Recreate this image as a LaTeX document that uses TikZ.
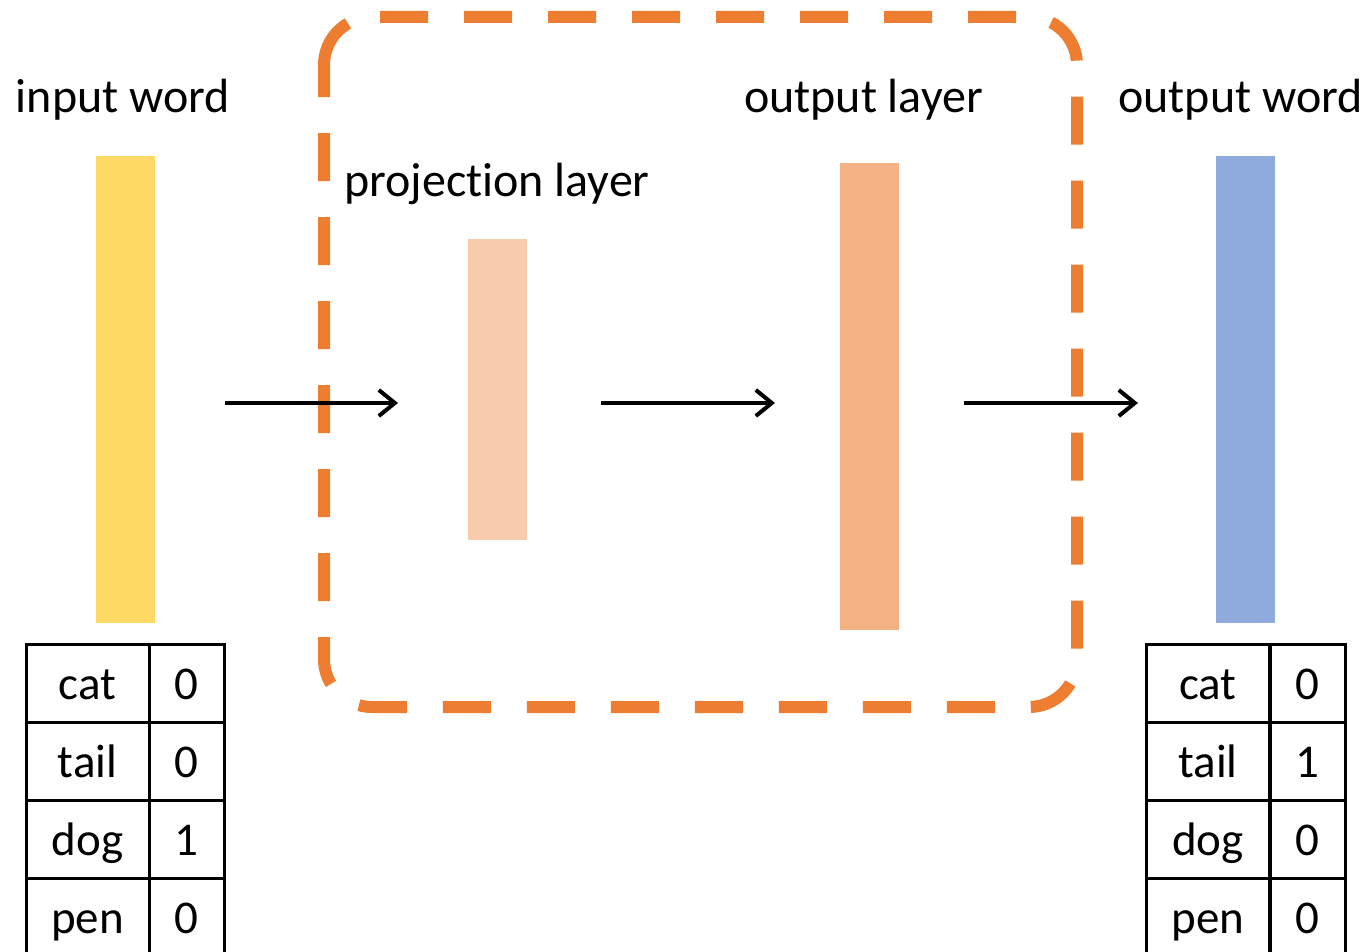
\documentclass[tikz,border=0pt]{standalone}
\usepackage{fontspec}
\setmainfont[Ligatures={NoCommon}]{Carlito}
\usetikzlibrary{arrows.meta}
\definecolor{orng}{HTML}{ED7D31}
\definecolor{ylw}{HTML}{FFD966}
\definecolor{projc}{HTML}{F8CBAD}
\definecolor{outc}{HTML}{F4B183}
\definecolor{bluc}{HTML}{8FAADC}
\begin{document}
\begin{tikzpicture}[x=1pt,y=-1pt,
  lbl/.style={inner sep=0pt, anchor=base, font=\fontsize{48}{57}\selectfont},
  bar/.style={draw=none, inner sep=0pt, minimum width=59pt},
  arr/.style={line width=4pt, -{Straight Barb[length=16pt,width=26pt]}},
  dbox/.style={draw=orng, line width=12pt, dash pattern=on 48pt off 36pt, rounded corners=48pt},
  wcell/.style={draw, line width=3pt, minimum width=123pt, minimum height=78pt, text height=40pt, text depth=8pt, inner sep=0pt, font=\fontsize{47}{56}\selectfont},
  vcell/.style={wcell, minimum width=75pt}
]
\useasboundingbox (0,0) rectangle (1371,952);
% dashed frame
\draw[dbox] (380,17) -- (1077,17) -- (1077,707) -- (324,707) -- (324,65);
\draw[draw=orng, line width=12pt] (324,65) arc[start angle=180, end angle=120, radius=48pt];
% bars
\node[bar, fill=ylw, minimum height=467pt] (inbar) at (125.5,389.5) {};
\node[bar, fill=projc, minimum height=301pt] (projbar) at (497.5,389.5) {};
\node[bar, fill=outc, minimum height=467pt] (outbar) at (869.5,396.5) {};
\node[bar, fill=bluc, minimum height=467pt] (wordbar) at (1245.5,389.5) {};
% labels
\node[lbl] (linput) at (123,113) {input word};
\node[lbl, anchor=base west] (lproj) at (344,197) {projection layer};
\node[lbl] (lout) at (863.5,113) {output layer};
\node[lbl] (lword) at (1240.5,113) {output word};
% arrows
\coordinate (a1s) at (225,403); \coordinate (a1e) at (398,403);
\coordinate (a2s) at (601,403); \coordinate (a2e) at (775,403);
\coordinate (a3s) at (964,403); \coordinate (a3e) at (1138,403);
\draw[arr] (a1s) -- (a1e);
\draw[arr] (a2s) -- (a2e);
\draw[arr] (a3s) -- (a3e);
% left table
\node[wcell] (lw1) at (87.5,683) {cat};
\node[vcell] (lv1) at (186.5,683) {0};
\node[wcell] (lw2) at (87.5,761) {tail};
\node[vcell] (lv2) at (186.5,761) {0};
\node[wcell] (lw3) at (87.5,839) {dog};
\node[vcell] (lv3) at (186.5,839) {1};
\node[wcell] (lw4) at (87.5,917) {pen};
\node[vcell] (lv4) at (186.5,917) {0};
% right table
\node[wcell] (rw1) at (1208,683) {cat};
\node[vcell] (rv1) at (1307.5,683) {0};
\node[wcell] (rw2) at (1208,761) {tail};
\node[vcell] (rv2) at (1307.5,761) {1};
\node[wcell] (rw3) at (1208,839) {dog};
\node[vcell] (rv3) at (1307.5,839) {0};
\node[wcell] (rw4) at (1208,917) {pen};
\node[vcell] (rv4) at (1307.5,917) {0};
\end{tikzpicture}
\end{document}
